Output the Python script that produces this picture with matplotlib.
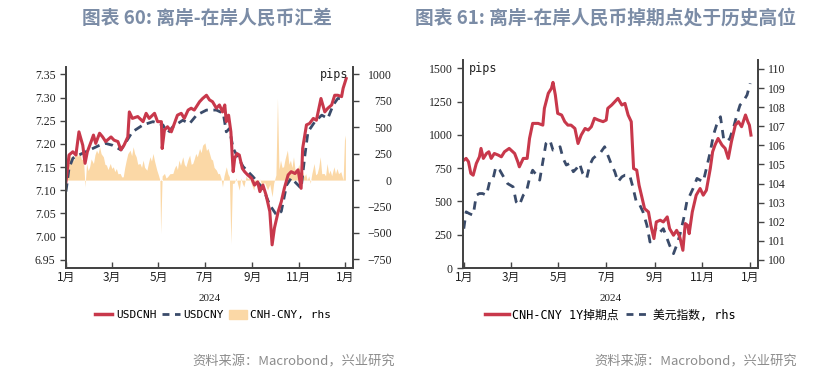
import matplotlib
matplotlib.use("Agg")
import matplotlib.pyplot as plt
import matplotlib.patches as mpatches
import matplotlib.lines as mlines
import numpy as np
import pandas as pd

plt.rcParams["font.family"] = ["Noto Sans CJK SC", "DejaVu Sans"]

START = pd.Timestamp("2024-01-01")

# ---- chart 60: offshore vs onshore CNY (days since 2024-01-01) ----
cnh_day = [0, 4, 9, 13, 17, 22, 25, 28, 33, 36, 39, 44, 48, 52, 59, 63, 68, 72, 76, 81,
           83, 87, 94, 101, 105, 109, 116, 120, 125, 126, 129, 133, 138, 142, 146, 151,
           155, 160, 164, 168, 175, 179, 184, 188, 192, 197, 201, 205, 208, 210, 213, 216,
           219, 221, 224, 227, 231, 234, 238, 243, 247, 251, 254, 258, 262, 267, 270, 273,
           278, 282, 286, 291, 295, 300, 304, 308, 310, 315, 319, 324, 328, 334, 339, 343,
           348, 352, 356, 361, 363, 367]
usdcnh = [7.118, 7.176, 7.183, 7.176, 7.226, 7.197, 7.158, 7.183, 7.205, 7.219, 7.201,
          7.223, 7.215, 7.205, 7.215, 7.208, 7.205, 7.187, 7.197, 7.215, 7.269, 7.255,
          7.259, 7.248, 7.266, 7.255, 7.266, 7.248, 7.248, 7.190, 7.230, 7.237, 7.226,
          7.244, 7.262, 7.266, 7.255, 7.273, 7.277, 7.273, 7.291, 7.298, 7.305, 7.295,
          7.291, 7.277, 7.284, 7.269, 7.284, 7.248, 7.262, 7.226, 7.140, 7.169, 7.179,
          7.176, 7.147, 7.140, 7.133, 7.126, 7.111, 7.118, 7.097, 7.111, 7.090, 7.054,
          6.982, 7.018, 7.054, 7.075, 7.104, 7.133, 7.140, 7.136, 7.144, 7.104, 7.190,
          7.241, 7.244, 7.255, 7.251, 7.298, 7.269, 7.277, 7.284, 7.305, 7.305, 7.302,
          7.320, 7.341]

cny_day = [0, 4, 9, 17, 26, 35, 44, 52, 61, 72, 79, 87, 101, 114, 127, 133, 140, 153, 162,
           171, 184, 197, 206, 210, 214, 219, 225, 232, 245, 258, 267, 276, 282, 289, 295,
           304, 308, 313, 317, 326, 335, 343, 350, 356, 365]
usdcny = [7.097, 7.147, 7.169, 7.176, 7.183, 7.190, 7.197, 7.201, 7.197, 7.187, 7.205,
          7.226, 7.241, 7.248, 7.241, 7.223, 7.237, 7.251, 7.244, 7.262, 7.273, 7.273,
          7.266, 7.226, 7.233, 7.190, 7.172, 7.151, 7.129, 7.104, 7.068, 7.046, 7.054,
          7.111, 7.126, 7.111, 7.104, 7.176, 7.226, 7.248, 7.262, 7.255, 7.284, 7.298,
          7.298]

spread_day = [0, 1, 3, 5, 7, 8, 10, 12, 14, 16, 18, 20, 23, 25, 27, 29, 31, 33, 36, 38,
              40, 42, 44, 46, 49, 51, 53, 55, 58, 60, 62, 64, 66, 68, 71, 73, 75, 77, 79,
              81, 84, 86, 88, 90, 92, 94, 97, 99, 101, 103, 106, 108, 110, 112, 114, 116,
              119, 121, 123, 124, 126, 129, 131, 133, 136, 140, 142, 144, 146, 148, 150,
              153, 155, 157, 160, 162, 164, 166, 168, 170, 172, 175, 177, 179, 182, 184,
              186, 188, 190, 192, 194, 197, 199, 201, 203, 205, 207, 210, 212, 214, 216,
              218, 220, 223, 225, 227, 229, 231, 233, 236, 238, 240, 243, 246, 248, 251,
              254, 257, 260, 264, 267, 270, 272, 275, 277, 279, 281, 283, 285, 287, 290,
              292, 294, 296, 298, 300, 303, 305, 307, 310, 312, 314, 316, 318, 320, 322,
              325, 327, 329, 331, 333, 335, 338, 340, 342, 344, 346, 348, 351, 353, 355,
              357, 360, 363, 365, 366]
cnh_cny = [150, 189, 120, 252, 200, 240, 180, 260, 283, 220, 270, 200, 189, -63, 157, 90,
           126, 200, 157, 240, 283, 250, 315, 250, 220, 150, 142, 100, 157, 110, 126, 80,
           110, 60, 63, 30, 31, 120, 189, 250, 283, 230, 315, 250, 220, 150, 157, 120,
           189, 120, 94, 160, 220, 180, 252, 180, 94, 50, 0, -503, 40, 63, 20, 31, 60,
           63, 110, 142, 100, 189, 140, 220, 150, 126, 200, 236, 150, 157, 200, 252, 220,
           299, 260, 330, 352, 280, 300, 252, 200, 189, 120, 94, 60, 63, 20, -63, 40,
           126, 60, 31, -600, -30, -31, 20, -40, -94, 20, -30, -63, 40, 10, 31, -40, -94,
           -20, -31, 10, -63, -20, -94, -40, -157, -31, 50, 774, 100, 189, 120, 126, 200,
           283, 150, 189, 120, 220, 100, 94, 150, 63, 80, 31, 60, 0, 40, -31, 60, 157, 50,
           63, 120, 220, 60, 63, 40, 157, 60, 94, 40, 126, 60, 110, 60, 80, 0, 425, 377]

# ---- chart 61: 1Y swap points and dollar index ----
swap_day = [0, 3, 6, 9, 12, 16, 20, 22, 25, 29, 32, 35, 39, 44, 48, 52, 58, 65, 69, 71,
            76, 81, 84, 88, 95, 101, 103, 108, 112, 114, 117, 120, 125, 129, 133, 137,
            142, 146, 150, 155, 159, 163, 167, 172, 178, 182, 184, 189, 193, 197, 202,
            206, 210, 214, 217, 221, 224, 227, 231, 236, 239, 243, 246, 251, 255, 260,
            263, 268, 272, 276, 280, 283, 286, 288, 292, 297, 302, 306, 310, 315, 318,
            321, 325, 330, 334, 338, 342, 347, 351, 355, 360, 363, 365, 367]
swap_pts = [810, 823, 798, 710, 697, 785, 835, 898, 823, 860, 873, 823, 860, 848, 835,
            873, 898, 860, 798, 760, 823, 823, 973, 1086, 1086, 1073, 1199, 1312, 1349,
            1394, 1299, 1161, 1149, 1099, 1073, 1073, 1048, 935, 998, 1048, 1036, 1061,
            1124, 1111, 1099, 1111, 1199, 1224, 1249, 1274, 1224, 1236, 1149, 1099, 747,
            735, 622, 547, 446, 421, 321, 221, 346, 359, 346, 384, 296, 246, 283, 233,
            133, 334, 321, 258, 421, 547, 597, 547, 584, 747, 873, 923, 973, 923, 898,
            823, 948, 1073, 1099, 1061, 1149, 1099, 1073, 998]

dxy_day = [0, 3, 7, 12, 16, 20, 24, 29, 33, 37, 41, 46, 52, 56, 63, 67, 71, 76, 80, 84,
           88, 93, 97, 101, 105, 110, 114, 118, 123, 127, 131, 135, 140, 144, 148, 152,
           157, 161, 165, 170, 174, 180, 184, 189, 193, 197, 202, 206, 212, 216, 221, 225,
           229, 234, 238, 242, 246, 251, 255, 259, 263, 268, 272, 276, 281, 285, 289, 293,
           298, 302, 306, 310, 315, 319, 323, 328, 332, 336, 340, 345, 349, 353, 357, 362,
           366]
dxy = [101.64, 102.52, 102.43, 102.34, 103.39, 103.48, 103.48, 103.39, 104.09, 104.18,
       104.88, 104.70, 104.27, 104.00, 103.83, 103.04, 102.87, 103.39, 103.57, 104.27,
       104.70, 104.44, 104.18, 105.14, 106.10, 106.28, 105.75, 105.75, 105.93, 105.31,
       104.97, 105.05, 104.62, 104.79, 105.05, 104.53, 104.27, 104.97, 105.31, 105.49,
       105.58, 105.93, 105.49, 104.97, 104.62, 104.09, 104.35, 104.44, 104.44, 103.83,
       102.95, 102.87, 102.52, 101.82, 100.94, 101.29, 101.73, 101.47, 101.64, 101.21,
       100.77, 100.33, 100.77, 101.29, 102.17, 103.04, 103.39, 103.74, 104.27, 104.18,
       104.09, 104.79, 105.66, 106.54, 107.06, 107.50, 106.36, 106.19, 106.36, 106.98,
       107.59, 108.11, 108.29, 108.64, 109.25]

month_ticks = ["2024-01-01", "2024-03-01", "2024-05-01", "2024-07-01", "2024-09-01",
               "2024-11-01", "2025-01-01"]
month_labels = ["1月", "3月", "5月", "7月", "9月", "11月", "1月"]

RED = "#c8384b"
NAVY = "#3a4b6a"
SAND = "#fbd8a6"
TITLE_C = "#7b8ca6"
SPINE_C = "#444444"
num_font = ["Liberation Serif", "Noto Sans CJK SC"]
mono_font = ["DejaVu Sans Mono", "Noto Sans CJK SC"]


def to_dates(days):
    return START + pd.to_timedelta(np.array(days), unit="D")


def style_axes(ax, ax2):
    for a in (ax, ax2):
        a.spines["top"].set_visible(False)
        for s in ("left", "right", "bottom"):
            a.spines[s].set_color(SPINE_C)
            a.spines[s].set_linewidth(1.3)
        a.tick_params(axis="y", direction="out", length=4, width=1, colors=SPINE_C,
                      labelcolor="#222222", labelsize=8.5)
    ax.tick_params(axis="x", direction="in", length=4, width=1, colors=SPINE_C,
                   labelcolor="#222222", labelsize=8.5, pad=2)
    ax.set_xticks(pd.to_datetime(month_ticks))
    ax.set_xticklabels(month_labels, family=["Noto Sans CJK SC"])
    for lab in ax.get_yticklabels() + ax2.get_yticklabels():
        lab.set_family(num_font)
    ax.patch.set_visible(False)


fig = plt.figure(figsize=(8.35, 3.8), dpi=100)

# ---------------- left chart ----------------
ax = fig.add_axes([0.079, 0.2947, 0.3438, 0.529])
ax2 = ax.twinx()
ax.set_zorder(ax2.get_zorder() + 1)
ax2.fill_between(to_dates(spread_day), 0, cnh_cny, color=SAND, lw=0)
ax2.set_ylim(-831, 1069)
ax2.set_yticks([-750, -500, -250, 0, 250, 500, 750, 1000])
ax.plot(to_dates(cny_day), usdcny, color=NAVY, lw=2, ls=(0, (3, 2)))
ax.plot(to_dates(cnh_day), usdcnh, color=RED, lw=2.2)
ax.set_ylim(6.932, 7.366)
ax.set_yticks([6.95, 7.00, 7.05, 7.10, 7.15, 7.20, 7.25, 7.30, 7.35])
ax.yaxis.set_major_formatter(matplotlib.ticker.FormatStrFormatter("%.2f"))
ax.set_xlim(pd.Timestamp("2024-01-01"), pd.Timestamp("2025-01-11"))
style_axes(ax, ax2)
ax2.tick_params(axis="y", pad=24)
plt.setp(ax2.get_yticklabels(), ha="right")
ax.text(0.985, 0.995, "pips", transform=ax.transAxes, ha="right", va="top",
        fontsize=8.5, family=mono_font, color="#222222")

# ---------------- right chart ----------------
bx = fig.add_axes([0.5545, 0.2947, 0.3533, 0.5474])
bx2 = bx.twinx()
bx.set_zorder(bx2.get_zorder() + 1)
bx2.plot(to_dates(dxy_day), dxy, color=NAVY, lw=2, ls=(0, (3, 2.5)))
bx2.set_ylim(99.58, 110.47)
bx2.set_yticks(range(100, 111))
bx.plot(to_dates(swap_day), swap_pts, color=RED, lw=2.2)
bx.set_ylim(0, 1562)
bx.set_yticks([0, 250, 500, 750, 1000, 1250, 1500])
bx.set_xlim(pd.Timestamp("2023-12-31"), pd.Timestamp("2025-01-11"))
style_axes(bx, bx2)
bx.text(0.02, 0.99, "pips", transform=bx.transAxes, ha="left", va="top",
        fontsize=8.5, family=mono_font, color="#222222")

# ---------------- titles, year labels, legends, sources ----------------
fig.text(0.248, 0.952, "图表 60: 离岸-在岸人民币汇差", ha="center", va="center",
         fontsize=13.5, fontweight="bold", color=TITLE_C)
fig.text(0.725, 0.952, "图表 61: 离岸-在岸人民币掉期点处于历史高位", ha="center",
         va="center", fontsize=13.5, fontweight="bold", color=TITLE_C)
for xc in (0.2508, 0.7311):
    fig.text(xc, 0.215, "2024", ha="center", va="center", fontsize=8,
             family=num_font, color="#222222")

h1 = [mlines.Line2D([], [], color=RED, lw=2.5),
      mlines.Line2D([], [], color=NAVY, lw=2, ls=(0, (2.5, 2))),
      mpatches.Patch(color=SAND)]
fig.legend(h1, ["USDCNH", "USDCNY", "CNH-CNY, rhs"], loc="center",
           bbox_to_anchor=(0.255, 0.171), ncol=3, frameon=False,
           prop={"family": mono_font, "size": 8}, handlelength=1.6,
           handletextpad=0.3, columnspacing=0.5, handleheight=0.9)
h2 = [mlines.Line2D([], [], color=RED, lw=2.5),
      mlines.Line2D([], [], color=NAVY, lw=2, ls=(0, (2.5, 2)))]
fig.legend(h2, ["CNH-CNY 1Y掉期点", "美元指数, rhs"], loc="center",
           bbox_to_anchor=(0.731, 0.171), ncol=2, frameon=False,
           prop={"family": mono_font, "size": 8.5}, handlelength=2.0,
           handletextpad=0.3, columnspacing=0.6)

fig.text(0.473, 0.047, "资料来源：Macrobond，兴业研究", ha="right", va="center",
         fontsize=9.5, color="#8c8c8c")
fig.text(0.955, 0.047, "资料来源：Macrobond，兴业研究", ha="right", va="center",
         fontsize=9.5, color="#8c8c8c")

fig.savefig("out.png", dpi=100)
